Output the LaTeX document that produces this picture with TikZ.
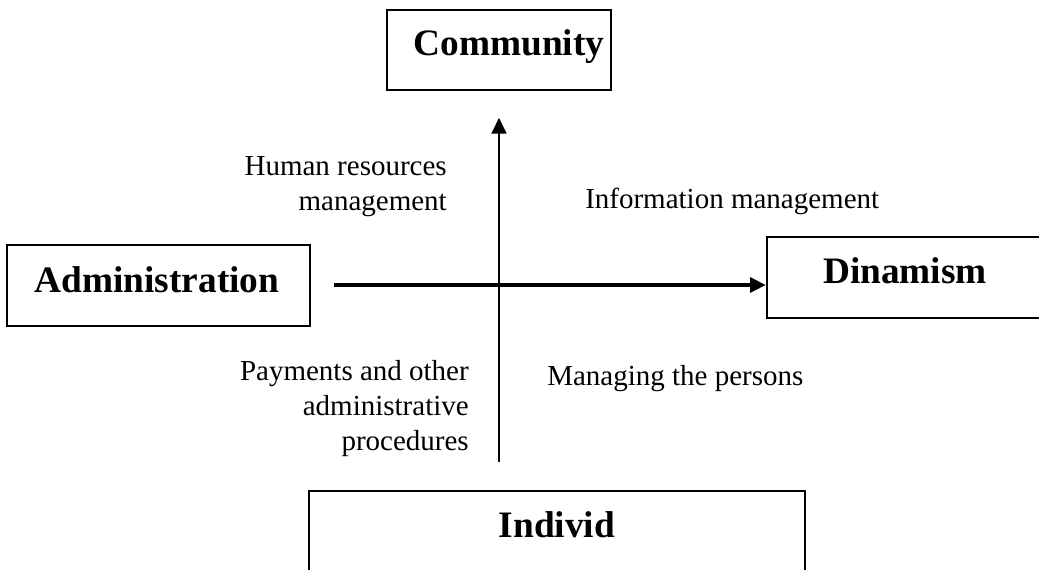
\documentclass[tikz,border=0pt]{standalone}
\usepackage{fontspec}
\setmainfont{Liberation Serif}
\usetikzlibrary{arrows.meta}
\tikzset{
  box/.style={draw, line width=1.5pt, rectangle, inner sep=0pt},
  title/.style={font=\fontsize{28}{32}\selectfont\bfseries, inner sep=0pt, anchor=base},
  lbl/.style={font=\fontsize{21.75}{25.9}\selectfont, inner sep=0pt},
  axis/.style={-{Triangle[length=12pt,width=11pt]}},
}
\begin{document}
\begin{tikzpicture}[x=0.75pt,y=-0.75pt]
\useasboundingbox (0,0) rectangle (1039,569);
\clip (0,0) rectangle (1039,569);
% boxes
\node[box, minimum width=224*0.75pt, minimum height=80*0.75pt] (com) at (499,50) {};
\node[box, minimum width=303*0.75pt, minimum height=81*0.75pt] (adm) at (158.5,285.5) {};
\node[box, minimum width=276*0.75pt, minimum height=81*0.75pt] (din) at (905,277.5) {};
\node[box, minimum width=496*0.75pt, minimum height=120*0.75pt] (ind) at (557,551) {};
% titles
\node[title] (comt) at (509,55) {Community};
\node[title] (admt) at (157,292) {Administration};
\node[title] (dint) at (905,283) {Dinamism};
\node[title] (indt) at (557,537) {Individ};
% axes
\draw[axis, line width=3pt, shorten <=17pt] (adm.east |- 0,285) -- (din.west |- 0,285);
\draw[axis, line width=2pt, shorten <=21pt, shorten >=20pt] (ind.north -| com.south) -- (com.south);
% labels
\node[lbl, align=right, anchor=base east] (hrm) at (447,210) {Human resources\\management};
\node[lbl, anchor=base west] (inf) at (585,208) {Information management};
\node[lbl, align=right, anchor=base east] (pay) at (469,450) {Payments and other\\administrative\\procedures};
\node[lbl, anchor=base west] (man) at (547,385) {Managing the persons};
\end{tikzpicture}
\end{document}
